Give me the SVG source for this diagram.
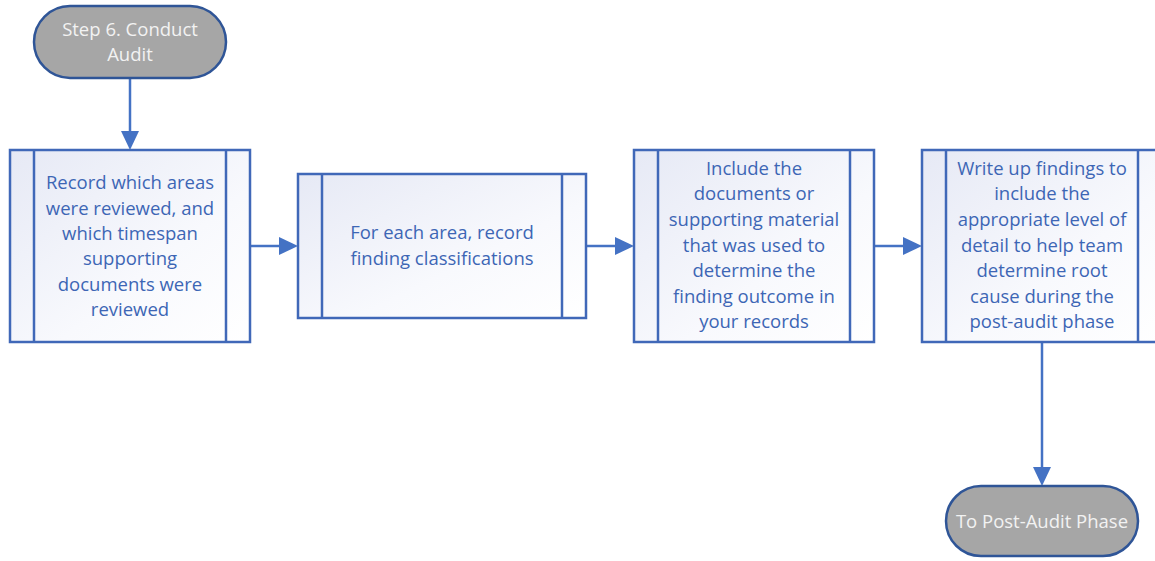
<svg xmlns="http://www.w3.org/2000/svg" width="1155" height="561" viewBox="0 0 1155 561">
<defs>
<linearGradient id="g" x1="0" y1="0" x2="1" y2="1">
<stop offset="0" stop-color="#e6e9f5"/>
<stop offset="0.6" stop-color="#f8f9fd"/>
<stop offset="1" stop-color="#ffffff"/>
</linearGradient>
</defs>
<style>
.term{fill:#a6a6a6;stroke:#2f5597;stroke-width:2.5}
.box{fill:url(#g);stroke:#4068b8;stroke-width:2.5}
.in{stroke:#4068b8;stroke-width:2.5}
.tt{font-family:"Open Sans",sans-serif;font-size:18.5px;fill:#f2f2f2;text-anchor:middle}
.bt{font-family:"Open Sans",sans-serif;font-size:18.5px;fill:#3d66b5;text-anchor:middle}
.ln{stroke:#4472c4;stroke-width:2.5;fill:none}
.hd{fill:#4472c4}
</style>
<rect width="1155" height="561" fill="#ffffff"/>
<g id="connectors">
<line class="ln" x1="130" y1="78" x2="130" y2="134"/>
<polygon class="hd" points="121,131 139,131 130,150"/>
<line class="ln" x1="250" y1="246" x2="282" y2="246"/>
<polygon class="hd" points="279,237 279,255 298,246"/>
<line class="ln" x1="586" y1="246" x2="618" y2="246"/>
<polygon class="hd" points="615,237 615,255 634,246"/>
<line class="ln" x1="874" y1="246" x2="906" y2="246"/>
<polygon class="hd" points="903,237 903,255 922,246"/>
<line class="ln" x1="1042" y1="342" x2="1042" y2="470"/>
<polygon class="hd" points="1033,467 1051,467 1042,486"/>
</g>
<g id="start">
<rect class="term" x="34" y="6" width="192" height="72" rx="36"/>
<text class="tt" x="130" y="36">Step 6. Conduct</text>
<text class="tt" x="130" y="61">Audit</text>
</g>
<g id="box1">
<rect class="box" x="10" y="150" width="240" height="192"/>
<line class="in" x1="34" y1="150" x2="34" y2="342"/>
<line class="in" x1="226" y1="150" x2="226" y2="342"/>
<text class="bt" x="130" y="189">Record which areas</text>
<text class="bt" x="130" y="215">were reviewed, and</text>
<text class="bt" x="130" y="240">which timespan</text>
<text class="bt" x="130" y="265">supporting</text>
<text class="bt" x="130" y="291">documents were</text>
<text class="bt" x="130" y="316">reviewed</text>
</g>
<g id="box2">
<rect class="box" x="298" y="174" width="288" height="144"/>
<line class="in" x1="322" y1="174" x2="322" y2="318"/>
<line class="in" x1="562" y1="174" x2="562" y2="318"/>
<text class="bt" x="442" y="239">For each area, record</text>
<text class="bt" x="442" y="265">finding classifications</text>
</g>
<g id="box3">
<rect class="box" x="634" y="150" width="240" height="192"/>
<line class="in" x1="658" y1="150" x2="658" y2="342"/>
<line class="in" x1="850" y1="150" x2="850" y2="342"/>
<text class="bt" x="754" y="175">Include the</text>
<text class="bt" x="754" y="200">documents or</text>
<text class="bt" x="754" y="226">supporting material</text>
<text class="bt" x="754" y="252">that was used to</text>
<text class="bt" x="754" y="277">determine the</text>
<text class="bt" x="754" y="303">finding outcome in</text>
<text class="bt" x="754" y="328">your records</text>
</g>
<g id="box4">
<rect class="box" x="922" y="150" width="240" height="192"/>
<line class="in" x1="946" y1="150" x2="946" y2="342"/>
<line class="in" x1="1138" y1="150" x2="1138" y2="342"/>
<text class="bt" x="1042" y="175">Write up findings to</text>
<text class="bt" x="1042" y="200">include the</text>
<text class="bt" x="1042" y="226">appropriate level of</text>
<text class="bt" x="1042" y="252">detail to help team</text>
<text class="bt" x="1042" y="277">determine root</text>
<text class="bt" x="1042" y="303">cause during the</text>
<text class="bt" x="1042" y="328">post-audit phase</text>
</g>
<g id="end">
<rect class="term" x="946" y="486" width="192" height="70" rx="35"/>
<text class="tt" x="1042" y="528">To Post-Audit Phase</text>
</g>
</svg>
